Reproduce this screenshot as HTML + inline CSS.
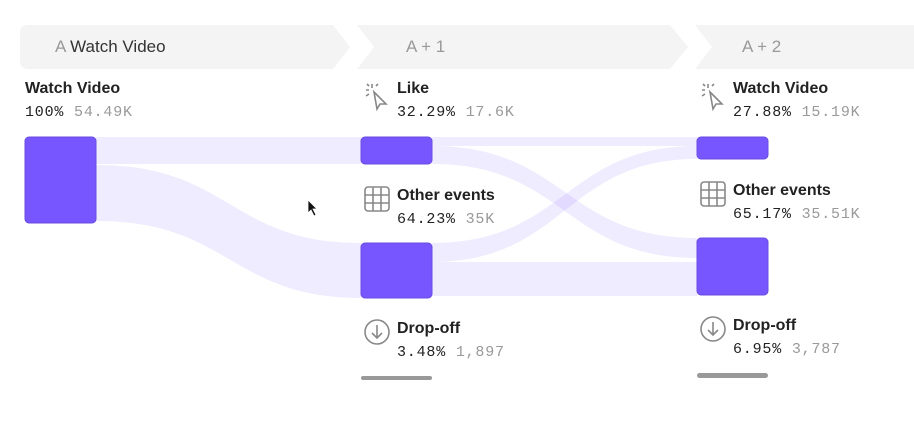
<!DOCTYPE html>
<html><head><meta charset="utf-8"><style>
body{margin:0;background:#fff;width:914px;height:440px;overflow:hidden;position:relative;font-family:"Liberation Sans",sans-serif}
.t{position:absolute;font-weight:bold;font-size:16px;color:#222}
.n{position:absolute;font-family:"Liberation Mono",monospace;font-size:15px;color:#222;letter-spacing:0.8px}
.n span{color:#999}
.h{position:absolute;font-size:17px;color:#333}
.h span{color:#999}
</style></head><body>
<svg width="914" height="440" style="position:absolute;left:0;top:0">
<path d="M28 25 H333 L350 47 L333 69 H28 Q20 69 20 61 V33 Q20 25 28 25Z" fill="#f4f4f4"/>
<path d="M357 25 H670 L688 47 L670 69 H357 L374 47Z" fill="#f4f4f4"/>
<path d="M695 25 H914 V69 H695 L712 47Z" fill="#f4f4f4"/>
<g fill="#7856ff" fill-opacity="0.11">
<path d="M96 137 H361 V164 H96Z"/>
<path d="M96 165 C230 165 230 243 361 243 V298 C230 298 230 221 96 221Z"/>
<path d="M432 137 H697 V146 H432Z"/>
<path d="M432 146 C565 146 565 238 697 238 V258 C565 258 565 164 432 164Z"/>
<path d="M432 243 C565 243 565 146 697 146 V159 C565 159 565 262 432 262Z"/>
<path d="M432 262 H697 V296 H432Z"/>
</g>
<g fill="#7856ff" stroke="#6a4ce0" stroke-width="1">
<rect x="25" y="137" width="71" height="86" rx="4"/>
<rect x="361" y="137" width="71" height="27" rx="4"/>
<rect x="361" y="243" width="71" height="55" rx="4"/>
<rect x="697" y="137" width="71" height="22" rx="4"/>
<rect x="697" y="238" width="71" height="57" rx="4"/>
</g>
<rect x="361" y="376" width="71" height="4" rx="2" fill="#999"/>
<rect x="697" y="373" width="71" height="5" rx="2.5" fill="#999"/>
<g stroke="#888" stroke-width="1.6" fill="none">
<path d="M374 92 L386 104 L380 104 L377 109 Z"/><path d="M372 84 V88 M366 90 H369 M367 84 L369 86 M376 86 L378 84 M366 96 L369 94"/>
<path d="M710 92 L722 104 L716 104 L713 109 Z"/><path d="M708 84 V88 M702 90 H705 M703 84 L705 86 M712 86 L714 84 M702 96 L705 94"/>
<rect x="365" y="187" width="24" height="24" rx="3"/><path d="M373 187V211M381 187V211M365 195H389M365 203H389"/>
<rect x="701" y="182" width="24" height="24" rx="3"/><path d="M709 182V206M717 182V206M701 190H725M701 198H725"/>
<circle cx="377" cy="332" r="12"/><path d="M377 325V338M372 333L377 338L382 333"/>
<circle cx="713" cy="329" r="12"/><path d="M713 322V335M708 330L713 335L718 330"/>
</g>
<path d="M308 200 V213 L311 210 L314 216 L316 215 L313 209 L317 209Z" fill="#111" stroke="#fff" stroke-width="0.8"/>
</svg>
<div class="h" style="left:55px;top:37px"><span>A</span> Watch Video</div>
<div class="h" style="left:406px;top:37px"><span>A + 1</span></div>
<div class="h" style="left:742px;top:37px"><span>A + 2</span></div>
<div class="t" style="left:25px;top:80px">Watch Video</div>
<div class="n" style="left:25px;top:104px">100% <span>54.49K</span></div>
<div class="t" style="left:397px;top:80px">Like</div>
<div class="n" style="left:397px;top:104px">32.29% <span>17.6K</span></div>
<div class="t" style="left:397px;top:187px">Other events</div>
<div class="n" style="left:397px;top:211px">64.23% <span>35K</span></div>
<div class="t" style="left:397px;top:320px">Drop-off</div>
<div class="n" style="left:397px;top:344px">3.48% <span>1,897</span></div>
<div class="t" style="left:733px;top:80px">Watch Video</div>
<div class="n" style="left:733px;top:104px">27.88% <span>15.19K</span></div>
<div class="t" style="left:733px;top:182px">Other events</div>
<div class="n" style="left:733px;top:206px">65.17% <span>35.51K</span></div>
<div class="t" style="left:733px;top:317px">Drop-off</div>
<div class="n" style="left:733px;top:341px">6.95% <span>3,787</span></div>
</body></html>
